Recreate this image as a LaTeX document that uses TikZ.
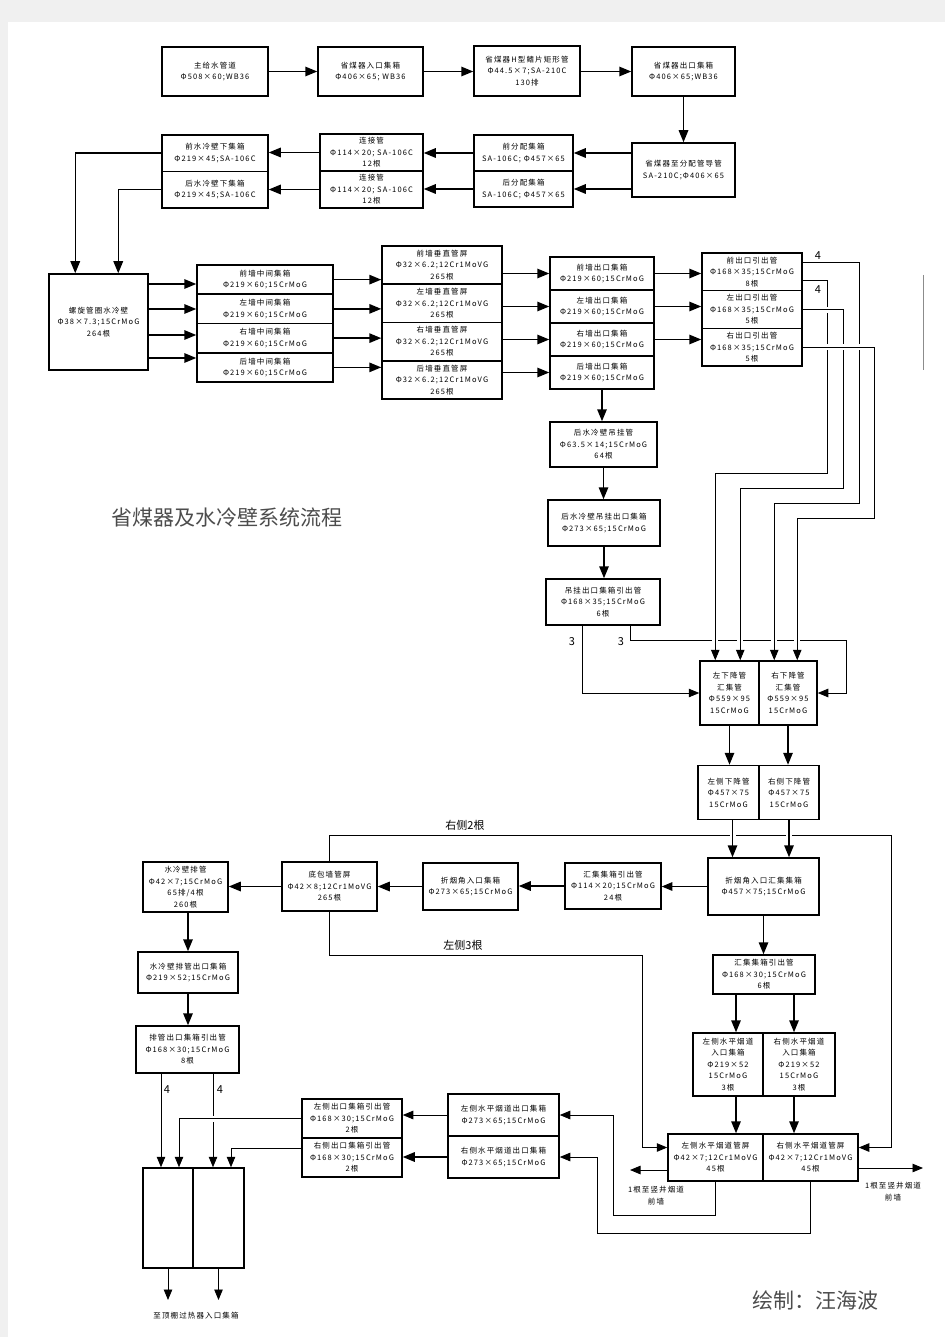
\documentclass[tikz,border=0pt]{standalone}
\usepackage{fontspec}
\setmainfont{Noto Sans CJK SC}
\newfontfamily\cjk[LetterSpace=15]{Noto Sans CJK SC}
\usetikzlibrary{arrows.meta}
\pgfdeclarelayer{bg}
\pgfsetlayers{bg,main}
\definecolor{pagegray}{RGB}{240,240,240}
\tikzset{
  blk/.style={draw, line width=1.5pt, fill=white, inner sep=0pt,
    align=center, font=\cjk\fontsize{7.5}{11.5}\selectfont},
  sz/.style 2 args={minimum width=#1pt, minimum height=#2pt},
  note/.style={align=center, font=\cjk\fontsize{7.5}{12}\selectfont},
  lbl/.style={font=\fontsize{11}{12}\selectfont},
  arr/.style={line width=1.5pt, -{Triangle[length=12pt,width=9.5pt]}},
  tarr/.style={line width=0.9pt, -{Triangle[length=10.5pt,width=8.5pt]}},
  cut/.style={preaction={draw, white, line width=6pt, arrows=-}},
}

\begin{document}
\begin{tikzpicture}[x=1pt, y=-1pt]
  \useasboundingbox (0,0) rectangle (945,1337);
  \fill[pagegray] (0,0) rectangle (945,22);
  \fill[pagegray] (0,0) rectangle (8,1337);
  \draw[black!45, line width=1pt] (923,275) -- (923,370);

  % economizer
  \node[blk, sz={106}{49}] (zgs)  at (215,71.5)   {主给水管道\\Φ508×60;WB36};
  \node[blk, sz={105}{49}] (smrk) at (370.5,71.5) {省煤器入口集箱\\Φ406×65; WB36};
  \node[blk, sz={106}{50}] (hxg)  at (527,71)     {省煤器H型鳍片矩形管\\Φ44.5×7;SA-210C\\130排};
  \node[blk, sz={103}{49}] (smck) at (683.5,71.5) {省煤器出口集箱\\Φ406×65;WB36};
  \node[blk, sz={103}{54}] (dg)   at (683.5,170)  {省煤器至分配管导管\\SA-210C;Φ406×65};
  \node[blk, sz={99}{36}]  (qfp)  at (523.5,153)  {前分配集箱\\SA-106C;  Φ457×65};
  \node[blk, sz={99}{36}]  (hfp)  at (523.5,189)  {后分配集箱\\SA-106C;  Φ457×65};
  \node[blk, sz={103}{37}] (ljg1) at (371.5,152.5) {连接管\\Φ114×20; SA-106C\\12根};
  \node[blk, sz={103}{37}] (ljg2) at (371.5,189.5) {连接管\\Φ114×20; SA-106C\\12根};
  \node[blk, sz={106}{36.5}] (qxj) at (215,153.25) {前水冷壁下集箱\\Φ219×45;SA-106C};
  \node[blk, sz={106}{36.5}] (hxj) at (215,189.75) {后水冷壁下集箱\\Φ219×45;SA-106C};

  % water walls
  \node[blk, sz={99}{96}] (lxg) at (98.5,322) {螺旋管圈水冷壁\\Φ38×7.3;15CrMoG\\264根};
  \foreach \side [count=\i] in {前,左,右,后} {
    \node[blk, sz={136}{29.25}] (zj\i) at (265,{250.375+29.25*\i}) {\side 墙中间集箱\\Φ219×60;15CrMoG};
    \node[blk, sz={120}{38.25}] (cz\i) at (442,{226.875+38.25*\i}) {\side 墙垂直管屏\\Φ32×6.2;12Cr1MoVG\\265根};
    \node[blk, sz={104}{33}] (ck\i) at (602,{240.5+33*\i}) {\side 墙出口集箱\\Φ219×60;15CrMoG};
  }
  \foreach \side/\num [count=\i] in {前/8,左/5,右/5} {
    \node[blk, sz={100}{37.67}] (yc\i) at (752,{234.165+37.67*\i}) {\side 出口引出管\\Φ168×35;15CrMoG\\\num 根};
  }
  \node[blk, sz={107}{45}] (dgg)  at (603.5,444.5) {后水冷壁吊挂管\\Φ63.5×14;15CrMoG\\64根};
  \node[blk, sz={112}{46}] (dgck) at (604,523)     {后水冷壁吊挂出口集箱\\Φ273×65;15CrMoG};
  \node[blk, sz={114}{46}] (dgyc) at (603,602)     {吊挂出口集箱引出管\\Φ168×35;15CrMoG\\6根};

  % downcomers
  \node[blk, sz={59}{64}] (xjl) at (729.5,693) {左下降管\\汇集管\\Φ559×95\\15CrMoG};
  \node[blk, sz={58}{64}] (xjr) at (788,693)   {右下降管\\汇集管\\Φ559×95\\15CrMoG};
  \node[blk, sz={61}{54}] (xcl) at (728.5,792.5) {左侧下降管\\Φ457×75\\15CrMoG};
  \node[blk, sz={60}{54}] (xcr) at (789,792.5)   {右侧下降管\\Φ457×75\\15CrMoG};

  % lower part
  \node[blk, sz={111}{57}] (zyh)  at (763.5,886.5) {折烟角入口汇集集箱\\Φ457×75;15CrMoG};
  \node[blk, sz={96}{46}]  (hyc)  at (613,886)     {汇集集箱引出管\\Φ114×20;15CrMoG\\24根};
  \node[blk, sz={95}{47}]  (zyrk) at (470.5,886.5) {折烟角入口集箱\\Φ273×65;15CrMoG};
  \node[blk, sz={95}{49}]  (dbq)  at (329.5,886.5) {底包墙管屏\\Φ42×8;12Cr1MoVG\\265根};
  \node[blk, sz={85}{50}]  (sp)   at (185.5,887)   {水冷壁排管\\Φ42×7;15CrMoG\\65排/4根\\260根};
  \node[blk, sz={100}{41}] (spck) at (188,972.5)   {水冷壁排管出口集箱\\Φ219×52;15CrMoG};
  \node[blk, sz={103}{47}] (spyc) at (187.5,1049.5) {排管出口集箱引出管\\Φ168×30;15CrMoG\\8根};
  \node[blk, sz={50}{100}] (dpl)  at (168,1218)    {};
  \node[blk, sz={51}{100}] (dpr)  at (218.5,1218)  {};
  \node[blk, sz={102}{39}] (hyc2) at (764,974.5)   {汇集集箱引出管\\Φ168×30;15CrMoG\\6根};
  \node[blk, sz={70}{63}]  (srl)  at (728,1064.5)  {左侧水平烟道\\入口集箱\\Φ219×52\\15CrMoG\\3根};
  \node[blk, sz={72}{63}]  (srr)  at (799,1064.5)  {右侧水平烟道\\入口集箱\\Φ219×52\\15CrMoG\\3根};
  \node[blk, sz={95}{47}]  (spl)  at (715.5,1157.5) {左侧水平烟道管屏\\Φ42×7;12Cr1MoVG\\45根};
  \node[blk, sz={95}{47}]  (spr)  at (810.5,1157.5) {右侧水平烟道管屏\\Φ42×7;12Cr1MoVG\\45根};
  \node[blk, sz={111}{42}] (zsck) at (503.5,1115)  {左侧水平烟道出口集箱\\Φ273×65;15CrMoG};
  \node[blk, sz={111}{42}] (ysck) at (503.5,1157)  {右侧水平烟道出口集箱\\Φ273×65;15CrMoG};
  \node[blk, sz={100}{39}] (zcyc) at (352,1118.5)  {左侧出口集箱引出管\\Φ168×30;15CrMoG\\2根};
  \node[blk, sz={100}{39}] (ycyc) at (352,1157.5)  {右侧出口集箱引出管\\Φ168×30;15CrMoG\\2根};

  % texts
  \node[font=\fontsize{21}{21}\selectfont, text=black!70] (title) at (227,517) {省煤器及水冷壁系统流程};
  \node[font=\fontsize{21}{21}\selectfont, text=black!70] (sign) at (815,1300) {绘制：汪海波};
  \node[lbl] (n4a) at (818,256) {4};
  \node[lbl] (n4b) at (818,290) {4};
  \node[lbl] (n3a) at (572,642) {3};
  \node[lbl] (n3b) at (621,642) {3};
  \node[lbl] (n4c) at (167,1090) {4};
  \node[lbl] (n4d) at (220,1090) {4};
  \node[lbl] (r2) at (465,825) {右侧2根};
  \node[lbl] (l3) at (463,945) {左侧3根};
  \node[note] (outl) at (656,1196) {1根至竖井烟道\\前墙};
  \node[note] (outr) at (893,1192) {1根至竖井烟道\\前墙};
  \node[note] (dptxt) at (196,1316) {至顶棚过热器入口集箱};
  \coordinate (endl) at (630,1170);
  \coordinate (endr) at (923,1168);
  \coordinate (endd1) at (168,1300);
  \coordinate (endd2) at (218.5,1300);

  \begin{pgfonlayer}{bg}
    % economizer
    \draw[arr] (zgs.east) -- (smrk.west);
    \draw[arr] (smrk.east) -- (smrk.east -| hxg.west);
    \draw[arr] (hxg.east |- smck.west) -- (smck.west);
    \draw[arr] (smck.south) -- (dg.north);
    \draw[arr] (dg.west |- qfp.east) -- (qfp.east);
    \draw[arr] (dg.west |- hfp.east) -- (hfp.east);
    \draw[arr] (qfp.west) -- (qfp.west -| ljg1.east);
    \draw[arr] (hfp.west) -- (hfp.west -| ljg2.east);
    \draw[arr] (ljg1.west) -- (ljg1.west -| qxj.east);
    \draw[arr] (ljg2.west) -- (ljg2.west -| hxj.east);
    \draw[arr] (qxj.west) -| ([xshift=27pt]lxg.north west);
    \draw[arr] (hxj.west) -| ([xshift=70pt]lxg.north west);

    % water walls
    \foreach \i/\dy in {1/38,2/13,3/-13,4/-36}
      \draw[arr] ([yshift=\dy pt]lxg.east) -- ([yshift=\dy pt]lxg.east -| zj\i.west);
    \foreach \i in {1,...,4} {
      \draw[arr] (zj\i.east) -- (zj\i.east -| cz\i.west);
      \draw[arr] (ck\i.west -| cz\i.east) -- (ck\i.west);
    }
    \foreach \i in {1,2,3}
      \draw[arr] (ck\i.east) -- (ck\i.east -| yc\i.west);
    \draw[arr] (ck4.south) -- (ck4.south |- dgg.north);
    \draw[arr] (dgg.south) -- (dgg.south |- dgck.north);
    \draw[arr] (dgck.south) -- (dgck.south |- dgyc.north);

    % to downcomer headers
    \draw[tarr] ([xshift=-21pt]dgyc.south) |- (xjl.west);
    \draw[tarr] ([xshift=27pt]dgyc.south) |- (846,640) |- (xjr.east);
    \draw[tarr, cut] ([yshift=9pt]yc1.east) -| (859,503) -| ([xshift=16pt]xjr.north west);
    \draw[tarr, cut] ([yshift=-9pt]yc1.east) -| (827,473) -| ([xshift=16pt]xjl.north west);
    \draw[tarr, cut] (yc2.east) -| (843,488) -| ([xshift=41pt]xjl.north west);
    \draw[tarr, cut] (yc3.east) -| (874,518) -| ([xshift=39pt]xjr.north west);
    \draw[arr] (xjl.south) -- (xjl.south |- xcl.north);
    \draw[arr] (xjr.south) -- (xjr.south |- xcr.north);

    % bottom enclosure
    \draw[tarr] (dbq.north) |- (891,835) |- ([yshift=10pt]spr.east);
    \draw[tarr] (dbq.south) |- (642,955) |- ([yshift=10pt]spl.west);
    \draw[arr, cut] ([xshift=4pt]xcl.south) -- ([xshift=4pt]xcl.south |- zyh.north);
    \draw[arr, cut] (xcr.south) -- (xcr.south |- zyh.north);
    \draw[tarr] (zyh.west) -- (zyh.west -| hyc.east);
    \draw[arr] (hyc.west) -- (hyc.west -| zyrk.east);
    \draw[arr] (zyrk.west) -- (zyrk.west -| dbq.east);
    \draw[arr] (dbq.west) -- (dbq.west -| sp.east);
    \draw[arr] (spck.north |- sp.south) -- (spck.north);
    \draw[arr] (spck.south) -- (spck.south |- spyc.north);

    % horizontal flue
    \draw[arr] (zyh.south) -- (zyh.south |- hyc2.north);
    \draw[arr] ([xshift=-28pt]hyc2.south) -- ([xshift=-28pt]hyc2.south |- srl.north);
    \draw[arr] ([xshift=30pt]hyc2.south) -- ([xshift=30pt]hyc2.south |- srr.north);
    \draw[arr] ([xshift=8pt]srl.south) -- ([xshift=8pt]srl.south |- spl.north);
    \draw[arr] ([xshift=-5pt]srr.south) -- ([xshift=-5pt]srr.south |- spr.north);
    \draw[tarr] (spl.west |- endl) -- (endl);
    \draw[tarr] (spr.east |- endr) -- (endr);
    \draw[tarr] (spl.south) |- (613,1215) |- (zsck.east);
    \draw[tarr] (spr.south) |- (597,1233) |- (ysck.east);
    \draw[tarr] (zsck.west) -- (zsck.west -| zcyc.east);
    \draw[arr] (ysck.west) -- (ysck.west -| ycyc.east);

    % roof superheater
    \draw[tarr] ([xshift=-26.5pt]spyc.south) -- ([xshift=-26.5pt]spyc.south |- dpl.north);
    \draw[tarr] ([xshift=25.5pt]spyc.south) -- ([xshift=25.5pt]spyc.south |- dpr.north);
    \draw[tarr, cut] (zcyc.west) -| ([xshift=11pt]dpl.north);
    \draw[tarr] ([yshift=9.5pt]ycyc.west) -| ([xshift=12.5pt]dpr.north);
    \draw[tarr] (dpl.south) -- (endd1);
    \draw[tarr] (dpr.south) -- (endd2);
  \end{pgfonlayer}
\end{tikzpicture}
\end{document}
